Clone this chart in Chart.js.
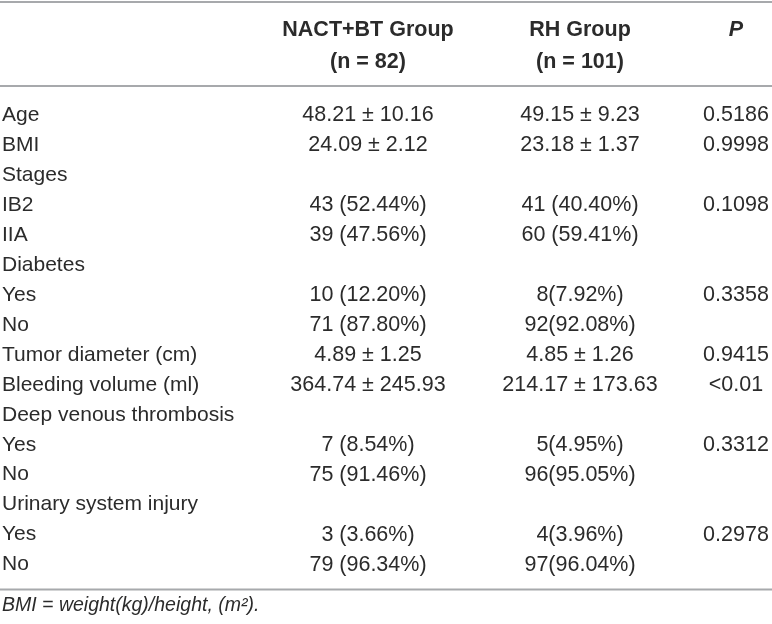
<!DOCTYPE html>
<html>
<head>
<meta charset="utf-8">
<title>NACT+BT vs RH</title>
<script src="https://cdn.jsdelivr.net/npm/chart.js@4.4.1/dist/chart.umd.min.js"></script>
<style>
    html, body { margin: 0; padding: 0; background: #fff; }
    #wrap { width: 772px; height: 624px; position: relative; }
</style>
</head>
<body>
<div id="wrap"><canvas id="tableChart"></canvas></div>
<script>
// row labels (first column)
const rowLabels = ['Age', 'BMI', 'Stages', 'IB2', 'IIA', 'Diabetes', 'Yes', 'No',
    'Tumor diameter (cm)', 'Bleeding volume (ml)', 'Deep venous thrombosis', 'Yes', 'No',
    'Urinary system injury', 'Yes', 'No'];

// column headers
const headers = [['NACT+BT Group', '(n = 82)'], ['RH Group', '(n = 101)'], ['P', '']];

// cell values per column
const nactValues = ['48.21 ± 10.16', '24.09 ± 2.12', '', '43 (52.44%)', '39 (47.56%)', '',
    '10 (12.20%)', '71 (87.80%)', '4.89 ± 1.25', '364.74 ± 245.93', '',
    '7 (8.54%)', '75 (91.46%)', '', '3 (3.66%)', '79 (96.34%)'];
const rhValues = ['49.15 ± 9.23', '23.18 ± 1.37', '', '41 (40.40%)', '60 (59.41%)', '',
    '8(7.92%)', '92(92.08%)', '4.85 ± 1.26', '214.17 ± 173.63', '',
    '5(4.95%)', '96(95.05%)', '', '4(3.96%)', '97(96.04%)'];
const pValues = ['0.5186', '0.9998', '', '0.1098', '', '', '0.3358', '', '0.9415', '<0.01', '',
    '0.3312', '', '', '0.2978', ''];

const footnote = 'BMI = weight(kg)/height, (m²).';

// layout
const FONT = "'Liberation Sans', Arial, Helvetica, sans-serif";
const TEXT_COLOR = '#2b2b2b';
const RULE_COLOR = '#a7a9ac';
const labelWidth = 250;
const colCenters = [368, 580, 736];

const columns = [nactValues, rhValues, pValues];

// draws cells and horizontal rules
const tablePlugin = {
    id: 'tableCells',
    afterDraw(chart) {
        const ctx = chart.ctx;
        const x = chart.scales.x;
        const y = chart.scales.y;
        const area = chart.chartArea;

        ctx.save();
        ctx.strokeStyle = RULE_COLOR;
        ctx.lineWidth = 2;
        [2, area.top - 14, area.bottom + 10].forEach(ry => {
            ctx.beginPath();
            ctx.moveTo(0, ry);
            ctx.lineTo(chart.width, ry);
            ctx.stroke();
        });

        ctx.fillStyle = TEXT_COLOR;
        ctx.font = '21.5px ' + FONT;
        ctx.textAlign = 'center';
        ctx.textBaseline = 'middle';
        columns.forEach((col, j) => {
            const px = x.getPixelForValue(colCenters[j]);
            col.forEach((txt, i) => {
                if (!txt) return;
                ctx.fillText(txt, px, y.getPixelForValue(i));
            });
        });
        ctx.restore();
    }
};

const tableChart = new Chart(document.getElementById('tableChart'), {
    type: 'scatter',
    data: {
        labels: rowLabels,
        datasets: []
    },
    options: {
        responsive: true,
        maintainAspectRatio: false,
        animation: false,
        layout: { padding: { left: 2, right: 0, top: 0, bottom: 0 } },
        plugins: {
            legend: { display: false },
            tooltip: { enabled: false },
            title: {
                display: true,
                position: 'bottom',
                align: 'start',
                text: footnote,
                color: TEXT_COLOR,
                font: { family: FONT, size: 19.5, style: 'italic', weight: 'normal' },
                padding: { top: 14, bottom: 7 }
            }
        },
        scales: {
            x: {
                type: 'linear',
                position: 'top',
                min: labelWidth,
                max: 772,
                grid: { display: false, drawTicks: false },
                border: { display: false },
                afterBuildTicks: scale => {
                    scale.ticks = colCenters.map(v => ({ value: v }));
                },
                afterFit: scale => { scale.height = 100; },
                ticks: {
                    autoSkip: false,
                    maxRotation: 0,
                    padding: 22,
                    color: TEXT_COLOR,
                    font: ctx => ({
                        family: FONT,
                        size: 21.5,
                        weight: 'bold',
                        style: ctx.index === 2 ? 'italic' : 'normal',
                        lineHeight: 1.5
                    }),
                    callback: (value, index) => headers[index]
                }
            },
            y: {
                type: 'category',
                labels: rowLabels,
                offset: true,
                grid: { display: false, drawTicks: false },
                border: { display: false },
                afterFit: scale => { scale.width = labelWidth - 2; },
                ticks: {
                    autoSkip: false,
                    crossAlign: 'far',
                    padding: 0,
                    color: TEXT_COLOR,
                    font: { family: FONT, size: 21 }
                }
            }
        }
    },
    plugins: [tablePlugin]
});
</script>
</body>
</html>
